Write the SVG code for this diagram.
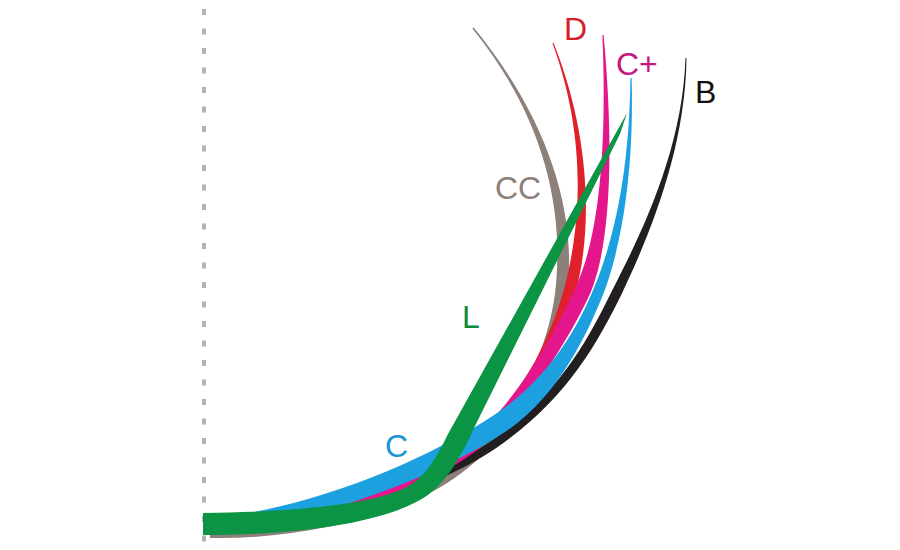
<svg xmlns="http://www.w3.org/2000/svg" width="900" height="550" viewBox="0 0 900 550">
<style>
.lbl{font-family:"Liberation Sans",Arial,sans-serif;font-size:32px}
</style>
<rect width="900" height="550" fill="#ffffff"/>
<line id="axis" x1="204" y1="9" x2="204" y2="545" stroke="#b3b3b3" stroke-width="4" stroke-dasharray="6 13.5"/>
<g id="lash-CC">
<path fill="#8d7f79" d="M210,532 C300,534 397,506 447,471 C507,431 549,359.4 556,284.4 C564,199.4 539.1,110.8 472.4,28.5 L473.6,27.5 C540.9,109.2 576,200.6 568,285.6 C561,360.6 512.8,439.2 452.8,479.2 C402.9,514.1 300,540 210,538 Z"/>
<text class="lbl" x="495" y="199" fill="#8d7f79">CC</text>
</g>
<g id="lash-B">
<path fill="#231f20" d="M230,528 C320,527 442.4,476.4 497.4,436.4 C562,389.4 587.5,340.8 613.5,287.8 C641.4,233.2 682.5,150 685.5,58 L686.5,58 C685.5,150 648.6,236.8 622.5,292.2 C596.5,345.2 567.3,396.6 502.6,443.6 C447.6,483.6 330,528 230,532 Z"/>
<text class="lbl" x="695" y="103" fill="#111111">B</text>
</g>
<g id="lash-D">
<path fill="#e0212b" d="M210,530 C320,528 422,484.6 477,436.6 C522,396.6 550.2,338.4 564.2,288.4 C580.2,228.5 588.1,140.7 552.5,43.2 L553.5,42.8 C591.9,139.3 591.8,231.5 575.8,291.6 C561.8,341.6 528,403.4 483,443.4 C428,491.4 320,532 210,534 Z"/>
<text class="lbl" x="564" y="40" fill="#d6202a">D</text>
</g>
<g id="lash-Cplus">
<path fill="#e4168c" d="M210,527 C320,525 406.6,485.1 466.5,443.2 C516.4,405.2 557.7,326.7 575.7,286.7 C594.6,247.1 608,170.3 602.4,35 L603.6,35 C616,169.7 607.4,252.9 590.3,293.3 C572.3,333.3 523.6,414.8 473.6,452.8 C413.4,494.9 320,531 210,533 Z"/>
<text class="lbl" x="616" y="75" fill="#c2177f">C+</text>
</g>
<g id="lash-C">
<path fill="#1ca0e0" d="M204.4,519 C299.4,511 415,467.5 495,414.5 C548.2,379 577.9,328 593.9,288 C610.8,248.3 629.5,180 630.4,78 L631.6,78 C634.5,180 619.2,251.7 604.1,292 C588.1,332 559.3,395.7 506.1,431.2 C426.1,484.2 300.6,525 205.6,533 Z"/>
<text class="lbl" x="385" y="457" fill="#1a95d6">C</text>
</g>
<g id="lash-L">
<path fill="#0b9444" d="M203,513 C290,512 370,505 405,488 C425,478 435,460 448,434 L627,113 L620,134 L474,428 C462,455 448,480 428,495 C395,518 320,535 203,535 Z"/>
<text class="lbl" x="462" y="328" fill="#0c8a3c">L</text>
</g>
</svg>
